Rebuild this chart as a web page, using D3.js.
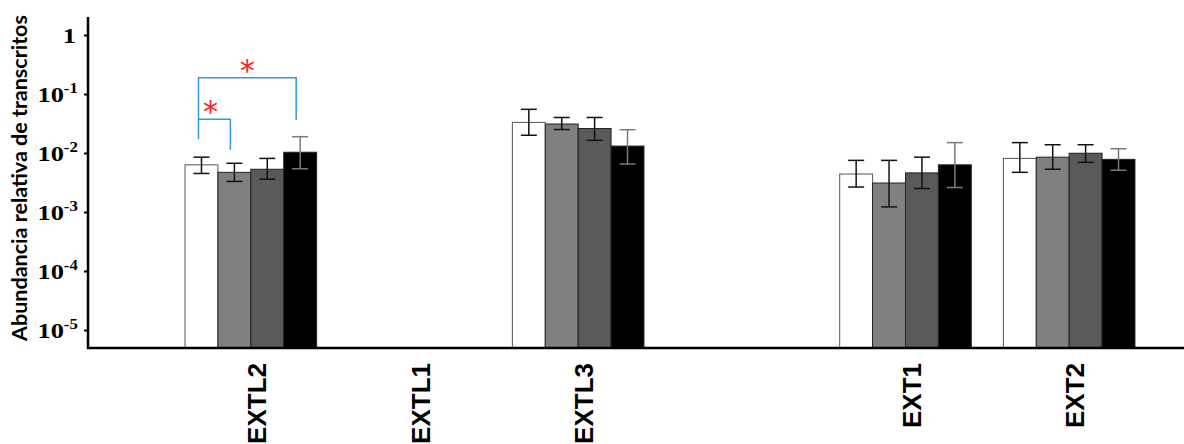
<!DOCTYPE html>
<html lang="es">
<head>
<meta charset="utf-8">
<title>Abundancia relativa de transcritos</title>
<script src="https://d3js.org/d3.v7.min.js"></script>
<style>
  body { margin: 0; background: #fff; }
  svg { display: block; }
</style>
</head>
<body>
<script>
// genes in plot order; the blank slot is the empty space between EXTL3 and EXT1
var genes = ["EXTL2", "EXTL1", "EXTL3", "", "EXT1", "EXT2"];

// four treatments per gene (white, light grey, dark grey, black)
var fills = ["#ffffff", "#808080", "#595959", "#000000"];

// mean, upper and lower error values (null = no data)
var extl2Mean = [6.3e-3, 4.7e-3, 5.3e-3, 1.03e-2];
var extl2Hi   = [8.5e-3, 6.7e-3, 8.1e-3, 1.89e-2];
var extl2Lo   = [4.5e-3, 3.3e-3, 3.6e-3, 5.4e-3];

var extl3Mean = [3.3e-2, 3.1e-2, 2.6e-2, 1.31e-2];
var extl3Hi   = [5.5e-2, 4.0e-2, 4.0e-2, 2.48e-2];
var extl3Lo   = [2.0e-2, 2.5e-2, 1.64e-2, 6.5e-3];

var ext1Mean = [4.4e-3, 3.1e-3, 4.6e-3, 6.3e-3];
var ext1Hi   = [7.5e-3, 7.5e-3, 8.5e-3, 1.5e-2];
var ext1Lo   = [2.65e-3, 1.22e-3, 2.5e-3, 2.6e-3];

var ext2Mean = [8.1e-3, 8.5e-3, 9.9e-3, 7.8e-3];
var ext2Hi   = [1.5e-2, 1.38e-2, 1.38e-2, 1.18e-2];
var ext2Lo   = [4.7e-3, 5.3e-3, 6.95e-3, 5.1e-3];

var yTicks = [1, 1e-1, 1e-2, 1e-3, 1e-4, 1e-5];
var yTickExp = ["", "-1", "-2", "-3", "-4", "-5"];

// significance brackets on EXTL2: bar indices, top level, leg ends
var sigFrom  = [0, 0];
var sigTo    = [1, 3];
var sigTop   = [3.72e-2, 0.189];
var sigLeftEnd  = [1.73e-2, 3.72e-2];
var sigRightEnd = [1.12e-2, 3.63e-2];

var W = 1184, H = 444;
var axisX = 88, axisTop = 17, axisBottom = 348;

var svg = d3.select("body").append("svg")
    .attr("width", W)
    .attr("height", H);

var x = d3.scaleBand()
    .domain(genes)
    .range([169, 1151])
    .paddingInner(0.196)
    .paddingOuter(0.098);

var xInner = d3.scaleBand()
    .domain(d3.range(fills.length))
    .range([0, x.bandwidth()]);

var y = d3.scaleLog()
    .domain([1e-5, 1])
    .range([330, 35]);

//build the bar table from the arrays
var table = [];
function addGene(g, mean, hi, lo) {
    for (var i = 0; i < mean.length; i++) {
        table.push({gene: g, i: i, v: mean[i], hi: hi[i], lo: lo[i]});
    }
}
addGene("EXTL2", extl2Mean, extl2Hi, extl2Lo);
addGene("EXTL3", extl3Mean, extl3Hi, extl3Lo);
addGene("EXT1", ext1Mean, ext1Hi, ext1Lo);
addGene("EXT2", ext2Mean, ext2Hi, ext2Lo);

function barX(d) { return x(d.gene) + xInner(d.i); }
function barCx(d) { return barX(d) + xInner.bandwidth() / 2; }

//bars
svg.append("g").selectAll("rect")
    .data(table)
    .enter()
    .append("rect")
    .attr("x", barX)
    .attr("width", xInner.bandwidth())
    .attr("y", function(d) { return y(d.v); })
    .attr("height", function(d) { return axisBottom - y(d.v); })
    .attr("fill", function(d) { return fills[d.i]; })
    .attr("stroke", function(d) { return d.i == 0 ? "#555" : "#222"; })
    .attr("stroke-width", 1);

//error bars
var err = svg.append("g").selectAll("g")
    .data(table)
    .enter()
    .append("g")
    .attr("stroke", function(d) { return d.i == 3 ? "#7a7a7a" : "#111"; })
    .attr("stroke-width", 1.5)
    .attr("fill", "none");

err.append("line")
    .attr("x1", barCx).attr("x2", barCx)
    .attr("y1", function(d) { return y(d.hi); })
    .attr("y2", function(d) { return y(d.lo); });
err.append("line")
    .attr("x1", function(d) { return barCx(d) - 8; })
    .attr("x2", function(d) { return barCx(d) + 8; })
    .attr("y1", function(d) { return y(d.hi); })
    .attr("y2", function(d) { return y(d.hi); });
err.append("line")
    .attr("x1", function(d) { return barCx(d) - 8; })
    .attr("x2", function(d) { return barCx(d) + 8; })
    .attr("y1", function(d) { return y(d.lo); })
    .attr("y2", function(d) { return y(d.lo); });

//significance brackets
for (var s = 0; s < sigFrom.length; s++) {
    var xa = barCx({gene: "EXTL2", i: sigFrom[s]}) - 3;
    var xb = barCx({gene: "EXTL2", i: sigTo[s]}) - 4;
    svg.append("path")
        .attr("d", "M" + xa + "," + y(sigLeftEnd[s]) +
                   "V" + y(sigTop[s]) +
                   "H" + xb +
                   "V" + y(sigRightEnd[s]))
        .attr("fill", "none")
        .attr("stroke", "#3399d6")
        .attr("stroke-width", 1.5);
    svg.append("text")
        .attr("x", (xa + xb) / 2 - (s == 0 ? 4 : 0))
        .attr("y", y(sigTop[s]) + 3)
        .attr("text-anchor", "middle")
        .attr("font-family", "DejaVu Sans, sans-serif")
        .attr("font-size", "30px")
        .attr("fill", "#ff2020")
        .text("*");
}

//y axis
var yAxis = svg.append("g")
    .attr("transform", "translate(" + axisX + ",0)")
    .call(d3.axisLeft(y)
        .tickValues(yTicks)
        .tickSize(4)
        .tickPadding(10)
        .tickFormat(function() { return ""; }));
yAxis.select(".domain").remove();
yAxis.selectAll(".tick line").attr("stroke", "#000").attr("stroke-width", 2);
yAxis.selectAll(".tick text")
    .attr("font-family", "Liberation Serif, Times New Roman, serif")
    .attr("font-weight", "bold")
    .attr("font-size", "22px")
    .attr("fill", "#000")
    .attr("dy", "7px")
    .attr("transform", "scale(1.2,1)")
    .each(function(d, i) {
        var t = d3.select(this);
        if (yTickExp[i] == "") {
            t.attr("x", -10).text("1");
        } else {
            t.attr("x", -8.5);
            t.append("tspan").text("10");
            t.append("tspan")
                .attr("font-size", "14px")
                .attr("dy", "-9px")
                .text(yTickExp[i]);
        }
    });

svg.append("line")
    .attr("x1", axisX).attr("x2", axisX)
    .attr("y1", axisTop).attr("y2", axisBottom + 1)
    .attr("stroke", "#000")
    .attr("stroke-width", 2.5);

//x axis
var xAxis = svg.append("g")
    .attr("transform", "translate(0," + axisBottom + ")")
    .call(d3.axisBottom(x).tickSize(0));
xAxis.select(".domain").remove();
xAxis.selectAll(".tick text")
    .attr("transform", "rotate(-90)")
    .attr("text-anchor", "end")
    .attr("x", -15)
    .attr("y", 6)
    .attr("dy", "0.35em")
    .attr("font-family", "Liberation Sans, Arial, sans-serif")
    .attr("font-weight", "bold")
    .attr("font-size", "26px")
    .attr("fill", "#000");

svg.append("line")
    .attr("x1", axisX - 1).attr("x2", W)
    .attr("y1", axisBottom).attr("y2", axisBottom)
    .attr("stroke", "#000")
    .attr("stroke-width", 2.5);

//y axis title
svg.append("text")
    .attr("transform", "translate(27,178) rotate(-90)")
    .attr("text-anchor", "middle")
    .attr("font-family", "Lato, Open Sans, sans-serif")
    .attr("font-weight", "bold")
    .attr("font-size", "21.5px")
    .attr("fill", "#000")
    .text("Abundancia relativa de transcritos");
</script>
</body>
</html>
